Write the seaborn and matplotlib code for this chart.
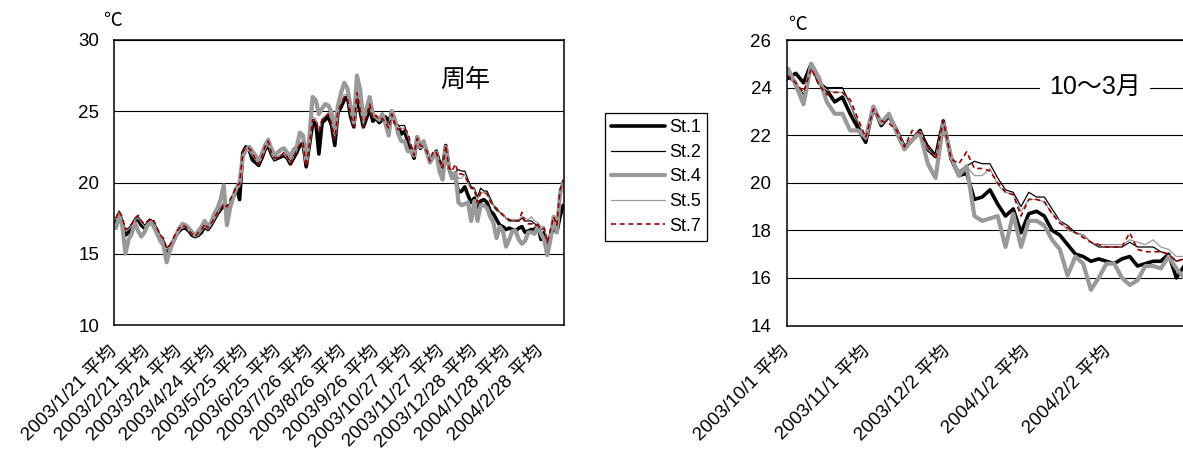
import numpy as np
import pandas as pd
import matplotlib
matplotlib.use('Agg')
import matplotlib.pyplot as plt
from matplotlib.lines import Line2D
from matplotlib.ticker import MultipleLocator
import seaborn as sns

sns.set_theme(style='white')
FAM = ['Liberation Sans', 'Noto Sans CJK JP', 'DejaVu Sans']
plt.rcParams['font.family'] = FAM
plt.rcParams['text.color'] = 'black'
plt.rcParams['axes.labelcolor'] = 'black'
plt.rcParams['xtick.color'] = 'black'
plt.rcParams['ytick.color'] = 'black'

# ---------------- data (3-day samples, 2003/1/22 .. 2004/3/20) ----------------
stations = ['St.1', 'St.2', 'St.4', 'St.5', 'St.7']

st1 = [17.2, 17.7, 17.2, 16.3, 16.5, 16.9, 17.3, 17.4, 17.0, 16.8,
       17.1, 17.3, 17.0, 16.5, 16.0, 15.8, 15.0, 15.4, 15.8, 16.3,
       16.6, 16.8, 16.8, 16.6, 16.3, 16.2, 16.3, 16.5, 16.9, 16.7,
       17.0, 17.4, 17.8, 18.1, 18.4, 18.0, 18.4, 19.0, 19.6, 18.8,
       22.1, 22.5, 22.3, 21.6, 21.4, 21.2, 21.7, 22.3, 22.6, 22.0,
       21.6, 21.7, 21.8, 21.9, 21.7, 21.3, 21.7, 22.1, 22.6, 22.7,
       21.1, 22.6, 24.1, 24.2, 22.0, 24.2, 24.4, 24.6, 24.0, 22.6,
       24.9, 25.3, 25.8, 26.0, 24.6, 23.9, 26.1, 25.0, 23.9, 24.5,
       25.2, 24.3, 24.5, 24.2,
       24.4, 24.6, 24.2, 25.0, 24.2, 23.9, 23.4, 23.6, 22.9, 22.3,
       21.7, 23.2, 22.4, 22.8, 22.2, 21.5, 21.8, 22.2, 21.4, 21.1,
       22.6, 21.0, 20.3, 20.4, 19.3, 19.4, 19.7, 19.1, 18.6, 18.9,
       17.9, 18.7, 18.8, 18.6, 18.0, 17.8, 17.4, 17.0, 16.9, 16.7,
       16.8, 16.7, 16.6, 16.8, 16.9, 16.5, 16.6, 16.7, 16.7, 17.0,
       16.0, 16.5, 15.6, 16.3, 16.8, 16.5, 17.6, 18.4]

st2 = [17.5, 18.0, 17.5, 16.7, 16.8, 17.1, 17.5, 17.6, 17.3, 17.0,
       17.2, 17.4, 17.2, 16.8, 16.3, 16.0, 15.4, 15.6, 16.0, 16.5,
       16.8, 16.9, 17.0, 16.7, 16.5, 16.3, 16.4, 16.7, 17.0, 16.8,
       17.1, 17.5, 17.9, 18.2, 18.6, 18.3, 18.5, 19.2, 19.7, 19.6,
       22.1, 22.4, 22.3, 21.9, 21.6, 21.3, 21.8, 22.4, 22.8, 22.1,
       21.7, 21.8, 21.9, 22.0, 21.8, 21.4, 21.8, 22.2, 22.8, 22.8,
       21.3, 22.8, 24.3, 24.3, 23.2, 24.3, 24.6, 24.8, 24.2, 22.9,
       25.0, 25.5, 26.0, 26.1, 24.8, 24.0, 26.2, 25.2, 24.0, 24.7,
       25.4, 24.5, 24.7, 24.4,
       24.4, 24.2, 23.7, 24.9, 24.2, 24.0, 24.0, 24.0, 23.3, 22.5,
       21.8, 23.2, 22.6, 22.9, 22.3, 21.5, 21.7, 22.2, 21.6, 21.2,
       22.6, 21.1, 20.5, 20.7, 20.9, 20.8, 20.8, 20.2, 19.7, 19.6,
       19.0, 19.6, 19.4, 19.4, 18.9, 18.4, 18.2, 17.9, 17.8, 17.5,
       17.3, 17.3, 17.3, 17.3, 17.5, 17.3, 17.3, 17.3, 17.1, 17.0,
       16.7, 16.8, 15.8, 16.6, 17.4, 16.9, 19.0, 19.8]

st4 = [16.8, 17.6, 17.0, 15.0, 16.0, 16.4, 17.2, 16.6, 16.2, 16.5,
       17.0, 17.2, 16.9, 16.4, 15.9, 15.6, 14.4, 15.2, 15.8, 16.3,
       16.8, 17.1, 17.0, 16.8, 16.5, 16.3, 16.6, 16.9, 17.3, 16.9,
       17.2, 17.8, 18.2, 18.8, 19.8, 17.0, 18.2, 19.0, 19.6, 20.0,
       21.8, 22.3, 22.5, 22.2, 21.9, 21.5, 22.0, 22.6, 23.0, 22.4,
       21.9, 22.1, 22.3, 22.4, 22.1, 21.8, 22.3, 22.5, 23.5, 23.3,
       21.5, 23.2, 26.0, 25.8, 24.8, 25.2, 25.5, 25.4, 24.9, 23.5,
       25.4, 26.3, 27.0, 26.6, 25.3, 24.2, 27.5, 26.5, 24.4, 25.2,
       26.0, 24.8, 24.6, 24.4,
       24.8, 24.1, 23.3, 25.0, 24.4, 23.4, 22.9, 22.9, 22.2, 22.2,
       21.9, 23.2, 22.5, 22.9, 22.1, 21.4, 21.8, 22.1, 20.8, 20.2,
       22.5, 21.1, 20.3, 20.7, 18.6, 18.4, 18.5, 18.6, 17.3, 18.7,
       17.3, 18.4, 18.4, 18.2, 17.6, 17.2, 16.1, 16.9, 16.6, 15.5,
       16.0, 16.6, 16.6, 16.0, 15.7, 15.9, 16.5, 16.5, 16.4, 16.9,
       16.4, 16.0, 14.9, 16.0, 17.6, 16.5, 19.2, 20.0]

st5 = [17.4, 17.9, 17.4, 16.6, 16.7, 17.0, 17.4, 17.5, 17.2, 16.9,
       17.1, 17.3, 17.1, 16.7, 16.2, 15.9, 15.3, 15.5, 15.9, 16.4,
       16.7, 16.8, 16.9, 16.6, 16.4, 16.2, 16.3, 16.6, 16.9, 16.7,
       17.0, 17.4, 17.8, 18.2, 18.7, 18.2, 18.5, 19.1, 19.7, 19.7,
       21.9, 22.3, 22.2, 21.9, 21.6, 21.3, 21.8, 22.3, 22.7, 22.0,
       21.6, 21.8, 21.9, 22.0, 21.7, 21.4, 21.8, 22.2, 22.8, 22.9,
       21.3, 22.9, 24.6, 24.5, 23.6, 24.5, 24.7, 24.9, 24.3, 23.2,
       25.1, 25.6, 26.2, 26.1, 24.9, 24.1, 26.5, 25.3, 24.1, 24.8,
       25.6, 24.6, 24.6, 24.5,
       24.6, 24.3, 23.6, 24.9, 24.2, 23.9, 23.8, 23.8, 23.3, 22.6,
       21.8, 23.1, 22.5, 22.8, 22.3, 21.5, 21.7, 22.1, 21.4, 21.1,
       22.6, 21.0, 20.5, 20.7, 20.3, 20.3, 20.6, 19.9, 19.6, 19.5,
       18.8, 19.3, 19.3, 19.2, 18.7, 18.4, 18.0, 17.9, 17.8, 17.5,
       17.4, 17.4, 17.4, 17.4, 17.6, 17.5, 17.4, 17.6, 17.3, 17.2,
       16.9, 16.9, 15.9, 16.6, 17.5, 17.0, 19.2, 20.0]

st7 = [17.5, 18.0, 17.6, 16.7, 16.8, 17.1, 17.5, 17.7, 17.3, 17.1,
       17.3, 17.5, 17.3, 16.8, 16.3, 16.1, 15.4, 15.6, 16.0, 16.5,
       16.8, 17.0, 16.9, 16.6, 16.4, 16.2, 16.5, 16.7, 17.1, 16.8,
       17.1, 17.5, 17.9, 18.1, 18.5, 18.3, 18.8, 19.2, 19.8, 19.9,
       22.1, 22.5, 22.4, 22.1, 21.6, 21.3, 21.8, 22.5, 22.9, 22.1,
       21.7, 21.8, 21.9, 22.1, 21.8, 21.3, 21.8, 22.2, 22.7, 22.8,
       21.1, 22.7, 24.4, 24.4, 23.6, 24.4, 24.6, 24.8, 24.1, 23.0,
       25.0, 25.5, 26.0, 25.9, 24.8, 23.9, 26.3, 25.1, 23.9, 24.7,
       25.5, 24.5, 24.7, 24.4,
       24.5, 24.2, 23.8, 24.8, 24.1, 23.7, 23.8, 23.8, 23.5, 22.7,
       21.9, 23.1, 22.6, 22.5, 22.2, 21.5, 22.2, 22.1, 21.5, 21.0,
       22.6, 21.0, 20.8, 21.3, 20.6, 20.6, 20.5, 20.0, 19.6, 19.5,
       18.6, 19.3, 19.3, 19.2, 18.7, 18.3, 18.1, 17.9, 17.7, 17.5,
       17.4, 17.3, 17.3, 17.3, 17.9, 17.2, 17.1, 17.1, 17.1, 17.0,
       16.7, 16.8, 15.8, 16.7, 17.6, 17.0, 19.5, 20.2]

dates = pd.date_range('2003-01-22', periods=len(st1), freq='3D')

left_start = pd.Timestamp('2003-01-21')
right_start = pd.Timestamp('2003-10-01')
left_ticks = ['2003/1/21', '2003/2/21', '2003/3/24', '2003/4/24', '2003/5/25',
              '2003/6/25', '2003/7/26', '2003/8/26', '2003/9/26', '2003/10/27',
              '2003/11/27', '2003/12/28', '2004/1/28', '2004/2/28']
right_ticks = ['2003/10/1', '2003/11/1', '2003/12/2', '2004/1/2', '2004/2/2']

# ---------------- styles ----------------
styles = {
    'St.1': dict(color='black', lw=2.6, ls='-'),
    'St.2': dict(color='black', lw=0.9, ls='-'),
    'St.4': dict(color='#999999', lw=3.0, ls='-'),
    'St.5': dict(color='#999999', lw=0.9, ls='-'),
    'St.7': dict(color='#990000', lw=1.2, ls=(0, (3, 2.2))),
}

wide = pd.DataFrame({'date': dates, 'St.1': st1, 'St.2': st2, 'St.4': st4,
                     'St.5': st5, 'St.7': st7})
df = wide.melt(id_vars='date', var_name='station', value_name='temp')
df['xl'] = (df['date'] - left_start).dt.days
df['xr'] = (df['date'] - right_start).dt.days

W, H = 1183, 450
fig = plt.figure(figsize=(W / 100, H / 100), dpi=100)
axL = fig.add_axes([114.3 / W, 1 - 325 / H, 449.4 / W, 285 / H])
axR = fig.add_axes([786.7 / W, 1 - 325.5 / H, 403.9 / W, 285.5 / H])

for ax, xcol in ((axL, 'xl'), (axR, 'xr')):
    for st in stations:
        s = styles[st]
        sub = df[df['station'] == st]
        sns.lineplot(data=sub, x=xcol, y='temp', ax=ax, color=s['color'],
                     linewidth=s['lw'], linestyle=s['ls'], legend=False,
                     estimator=None, sort=True)
    ax.set_xlabel('')
    ax.set_ylabel('')
    for sp in ax.spines.values():
        sp.set_visible(True)
        sp.set_color('black')
        sp.set_linewidth(1.1)
    ax.yaxis.grid(True, color='black', linewidth=0.8)
    ax.xaxis.grid(False)
    ax.set_axisbelow(True)
    ax.tick_params(axis='both', which='both', direction='in', length=5,
                   width=1.0, color='black')
    ax.tick_params(axis='y', which='major', pad=11, labelsize=13.5)
    ax.tick_params(axis='x', which='major', pad=17, labelsize=13.5)

# dashed style fix (ensure dashes applied)
for ax in (axL, axR):
    for ln in ax.get_lines():
        if ln.get_color() in ('#990000',):
            ln.set_dashes((3, 2.2))

# left axes
axL.set_xlim(-0.5, 424.5)
axL.set_ylim(10, 30)
axL.yaxis.set_major_locator(MultipleLocator(5))
axL.yaxis.set_minor_locator(MultipleLocator(1))
lpos = [(pd.Timestamp(t.replace('/', '-')) - left_start).days - 0.5 for t in left_ticks]
axL.set_xticks(lpos)
axL.set_xticklabels([t + ' 平均' for t in left_ticks], rotation=45, ha='right',
                    va='center', rotation_mode='anchor')

# right axes
axR.set_xlim(-0.5, 155.5)
axR.set_ylim(14, 26)
axR.yaxis.set_major_locator(MultipleLocator(2))
axR.yaxis.set_minor_locator(MultipleLocator(1))
rpos = [(pd.Timestamp(t.replace('/', '-')) - right_start).days - 0.5 for t in right_ticks]
axR.set_xticks(rpos)
step = rpos[1] - rpos[0]
axR.set_xticks([p + step / 2 for p in rpos], minor=True)
axR.set_xticklabels([t + ' 平均' for t in right_ticks], rotation=45, ha='right',
                    va='center', rotation_mode='anchor')

# annotations
fig.text(103 / W, 1 - 21 / H, '℃', ha='left', va='center', fontsize=13.5)
fig.text(788 / W, 1 - 26 / H, '℃', ha='left', va='center', fontsize=13.5)
fig.text(465 / W, 1 - 80 / H, '周年', ha='center', va='center', fontsize=18)
fig.text(1095 / W, 1 - 87 / H, '10〜3月', ha='center', va='center', fontsize=18,
         bbox=dict(boxstyle='square,pad=0.35', facecolor='white', edgecolor='none'))

handles = [Line2D([0], [0], color=styles[s]['color'], lw=styles[s]['lw'],
                  ls=styles[s]['ls']) for s in stations]
leg = fig.legend(handles, stations, loc='upper left',
                 bbox_to_anchor=(605 / W, 1 - 113 / H), frameon=True,
                 fancybox=False, edgecolor='black', framealpha=1, fontsize=13,
                 handlelength=3.0, handletextpad=0.2, labelspacing=0.42,
                 borderpad=0.35, borderaxespad=0)
leg.get_frame().set_linewidth(0.9)

fig.savefig('out.png', dpi=100)
